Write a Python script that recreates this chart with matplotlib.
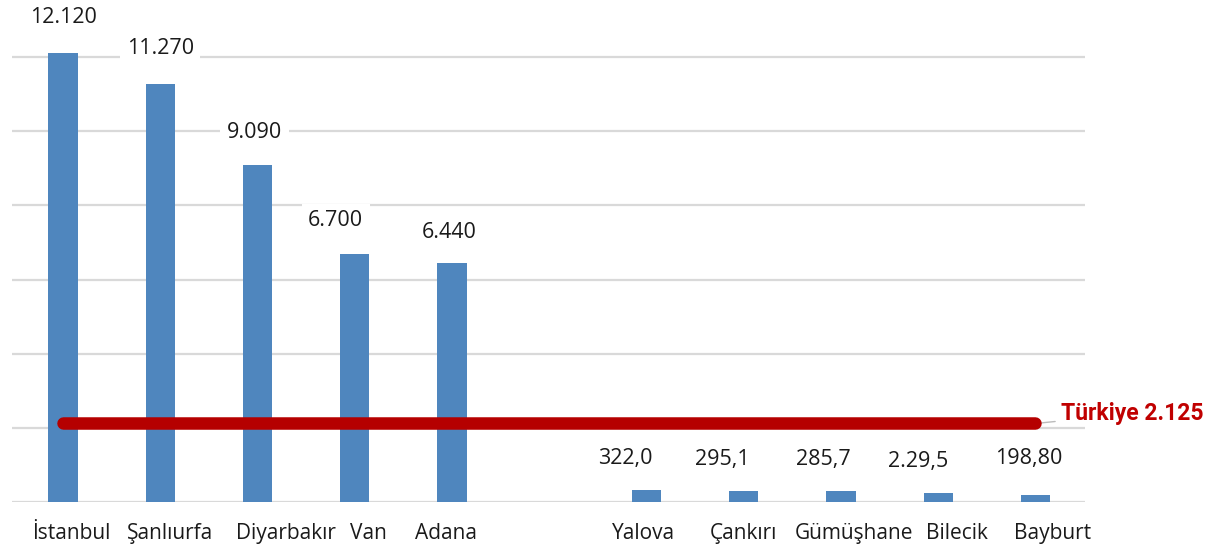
import matplotlib.pyplot as plt
from matplotlib.transforms import ScaledTranslation

# il bazında değerler (iki grup, arada boşluk)
cities = ['İstanbul', 'Şanlıurfa', 'Diyarbakır', 'Van', 'Adana',
          'Yalova', 'Çankırı', 'Gümüşhane', 'Bilecik', 'Bayburt']
values = [12120, 11270, 9090, 6700, 6440,
          322.0, 295.1, 285.7, 229.5, 198.80]
value_labels = ['12.120', '11.270', '9.090', '6.700', '6.440',
                '322,0', '295,1', '285,7', '2.29,5', '198,80']
positions = [0, 1, 2, 3, 4, 6, 7, 8, 9, 10]
turkiye_avg = 2125
turkiye_label = 'Türkiye 2.125'

# label nudges in pixels
label_dx = [0, 0, -3, -19, -3, -21, -21, -18, -20, -7]
label_dy = [35, 36, 32, 33, 31, 32, 32, 32, 32, 36]
tick_dx = [8, 10, 28, 14, -6, -3, 0, 13, 19, 17]

plt.rcParams['font.family'] = ['Open Sans', 'DejaVu Sans']

fig = plt.figure(figsize=(12.13, 5.5), dpi=100)
W, H = 1213, 550
bottom_px, top_px = 502, 34.75
ax = fig.add_axes([12 / W, (H - bottom_px) / H, (1085 - 12) / W, (bottom_px - top_px) / H])

ax.bar(positions, values, width=0.3, color='#4f86be', zorder=3)
ax.set_xlim(-0.525, 10.51)
ax.set_ylim(0, 12600)

ax.set_yticks(range(0, 12001, 2000))
ax.yaxis.grid(True, color='#d9d9d9', linewidth=1.6, zorder=0)
ax.set_yticklabels([])
ax.tick_params(axis='both', length=0)
ax.set_xticks(positions)
ax.set_xticklabels(cities, fontsize=15, color='#1a1a1a')
ax.tick_params(axis='x', pad=15)
for lab, dx in zip(ax.get_xticklabels(), tick_dx):
    lab.set_transform(lab.get_transform() + ScaledTranslation(dx / 100, 0, fig.dpi_scale_trans))
for s in ax.spines.values():
    s.set_visible(False)

for x, v, lab, dx, dy in zip(positions, values, value_labels, label_dx, label_dy):
    ax.annotate(lab, (x, v), xytext=(dx, dy), textcoords='offset pixels',
                ha='center', va='center', fontsize=15.5, color='#1a1a1a',
                bbox=dict(boxstyle='square,pad=0.3', fc='white', ec='none'),
                zorder=4)

# Türkiye ortalaması
ax.plot([0, 10], [turkiye_avg, turkiye_avg], color='#b50000', linewidth=9,
        solid_capstyle='round', zorder=5)
ax.annotate(turkiye_label, (10.03, turkiye_avg), xytext=(10.26, 2380),
            textcoords='data', ha='left', va='center', fontsize=16.5,
            fontweight='bold', color='#c00000', family=['Roboto', 'DejaVu Sans'],
            annotation_clip=False,
            arrowprops=dict(arrowstyle='-', color='#bbbbbb', lw=1,
                            shrinkA=2, shrinkB=0))

fig.savefig('out.png', dpi=100)
